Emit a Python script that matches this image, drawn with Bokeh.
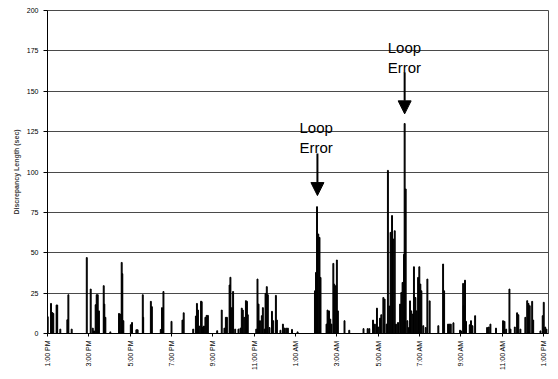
import math
from bokeh.plotting import figure
from bokeh.models import Range1d, FixedTicker, Arrow, NormalHead
from bokeh.core.properties import value
from bokeh.embed import file_html
from bokeh.resources import INLINE

# hours since 1:00 PM and discrepancy length (sec)
hours = [0.01, 0.17, 0.23, 0.28, 0.44, 0.47, 0.62, 0.96, 1.01, 1.17,
         1.90, 2.09, 2.19, 2.25, 2.33, 2.38, 2.43, 2.49, 2.72, 2.75, 2.80, 3.04,
         3.46, 3.52, 3.59, 3.62, 3.67,
         4.03, 4.09, 4.30, 4.36, 4.61, 4.63, 5.00, 5.05, 5.48, 5.54, 5.61,
         6.00, 6.53, 6.59, 7.05, 7.18, 7.23, 7.28, 7.34, 7.43, 7.46, 7.52, 7.57,
         7.64, 7.70, 7.76,
         8.21, 8.43, 8.56, 8.63, 8.68, 8.81, 8.85, 8.92, 8.98, 9.08, 9.24, 9.34,
         9.40, 9.45, 9.52, 9.60, 9.65, 9.69, 10.10, 10.16, 10.21, 10.28, 10.37,
         10.42, 10.50, 10.55, 10.61, 10.66, 10.74, 10.86, 10.92, 11.05, 11.10,
         11.27, 11.39, 11.47, 11.55, 11.63, 11.83,
         12.10, 12.94, 12.99, 13.04, 13.10, 13.16, 13.21, 13.50, 13.55, 13.62,
         13.68, 13.74, 13.83, 13.87, 13.94, 14.00, 14.05, 14.37, 14.60, 15.29,
         15.49, 15.57, 15.75, 15.84, 15.94,
         16.00, 16.09, 16.15, 16.25, 16.31, 16.41, 16.47, 16.54, 16.60, 16.67,
         16.73, 16.80, 16.86, 16.96, 17.06, 17.12, 17.18, 17.25, 17.28, 17.33,
         17.41, 17.49, 17.54, 17.60, 17.67, 17.73, 17.80, 17.86, 17.93, 17.99,
         18.04, 18.09, 18.18, 18.30, 18.38, 18.49, 18.91, 19.14, 19.19, 19.38,
         19.44, 19.51, 19.64, 19.96,
         20.01, 20.11, 20.14, 20.20, 20.25, 20.43, 20.49, 20.56, 20.69, 21.27,
         21.35, 21.43, 21.70, 22.04, 22.11, 22.19, 22.35, 22.40, 22.61, 22.72,
         22.78, 22.88, 23.12, 23.21, 23.27, 23.33, 23.45, 23.50, 23.85, 23.96,
         24.01, 24.08, 24.14]
lengths = [10.4, 18.6, 13, 12.4, 17.6, 17.6, 2.7, 8.5, 24, 2.7,
           47, 27.5, 3.3, 1.6, 17.8, 24, 24, 14, 29.6, 18.2, 10, 1,
           12.4, 12, 44, 37, 7.9,
           5.4, 6.8, 2.3, 2.3, 24, 10, 19.9, 16.6, 2.5, 16, 26,
           7.5, 8.3, 12.8, 2.7, 10.8, 18.6, 14.5, 4.6, 20, 19.7, 4, 4.6,
           10, 11.2, 11.2,
           1.7, 14.5, 3.3, 10, 10, 30, 34.8, 16, 26, 2.7, 2.7, 3.3,
           15.7, 14.5, 10, 20.3, 19.9, 11.6, 2.7, 33.7, 18.2, 7.9, 11,
           16, 2.7, 24.8, 29, 24, 3.7, 13.7, 7.9, 23.6, 8.3,
           2, 5.8, 3.3, 3.3, 3.3, 2.5,
           1, 26.4, 37.8, 78.5, 61.6, 59.5, 34.7, 5.8, 14.5, 14,
           8.9, 5.8, 43.4, 30.6, 29.5, 45.5, 14, 7.9, 2, 3,
           3, 3, 8.3, 5.8, 15.7,
           4, 9.5, 11.6, 22.3, 21.3, 5.8, 101, 17, 62.6, 73,
           58.5, 63.6, 5.8, 6.8, 18.2, 25.4, 31.6, 49, 130, 89.5,
           7.9, 3.7, 20.2, 14, 12, 41.3, 22.3, 14, 34.7, 41.3,
           30.6, 26.4, 4.8, 3.7, 33.7, 20.2, 4.8, 43, 26.4, 5.8,
           5.8, 5.8, 6.6, 2,
           1.6, 31, 17.2, 33, 7.5, 5.4, 7.9, 4.8, 11, 3.7,
           4, 5.8, 3.3, 7.9, 7.5, 2.7, 27.5, 2.7, 4, 12.8,
           11.6, 2.7, 10, 20.3, 18.6, 17.2, 19.9, 8.3, 1.6, 11,
           19.3, 4, 2.7]

tick_hours = [0, 2, 4, 6, 8, 10, 12, 14, 16, 18, 20, 22, 24]
tick_labels = ["1:00 PM", "3:00 PM", "5:00 PM", "7:00 PM", "9:00 PM", "11:00 PM",
               "1:00 AM", "3:00 AM", "5:00 AM", "7:00 AM", "9:00 AM", "11:00 AM",
               "1:00 PM"]
y_ticks = [0, 25, 50, 75, 100, 125, 150, 175, 200]

# annotations
note_x = [12.19, 16.46]
note_loop_y = [127.3, 176.8]
note_error_y = [115.4, 165.0]
arrow_x = [13.06, 17.28]
arrow_y0 = [111.5, 161.6]
arrow_y1 = [85.4, 136.0]

FONT = "Liberation Sans"
GRID = "#4a4a4a"

p = figure(width=556, height=377, output_backend="svg", toolbar_location=None,
           x_range=Range1d(0, 24.24), y_range=Range1d(0, 200),
           min_border_left=47, min_border_right=8, min_border_top=10,
           min_border_bottom=44)
p.background_fill_color = "white"
p.border_fill_color = "white"
p.outline_line_color = GRID
p.outline_line_width = 1

p.vbar(x=hours, top=lengths, width=0.045, bottom=0, color="black")

p.xaxis.ticker = FixedTicker(ticks=tick_hours)
p.xaxis.major_label_overrides = {h: t for h, t in zip(tick_hours, tick_labels)}
p.xaxis.major_label_orientation = math.pi / 2
p.xaxis.minor_tick_line_color = None
p.xaxis.major_tick_in = 0
p.xaxis.major_tick_out = 3
p.xaxis.major_label_standoff = 4
p.xaxis.major_label_text_font = FONT
p.xaxis.major_label_text_font_size = "7px"
p.xaxis.major_label_text_color = "black"
p.xaxis.axis_line_color = "black"

p.yaxis.ticker = FixedTicker(ticks=y_ticks)
p.yaxis.minor_tick_line_color = None
p.yaxis.major_tick_in = 0
p.yaxis.major_tick_out = 4
p.yaxis.major_label_standoff = 5
p.yaxis.major_label_text_font = FONT
p.yaxis.major_label_text_font_size = "7px"
p.yaxis.major_label_text_color = "black"
p.yaxis.axis_line_color = "black"
p.yaxis.axis_label = "Discrepancy Length (sec)"
p.yaxis.axis_label_text_font = FONT
p.yaxis.axis_label_text_font_size = "7px"
p.yaxis.axis_label_text_font_style = "bold"
p.yaxis.axis_label_standoff = 4

p.xgrid.grid_line_color = None
p.ygrid.grid_line_color = GRID
p.ygrid.grid_line_width = 1

p.text(x=note_x, y=note_loop_y, text=["Loop", "Loop"], text_font=value(FONT),
       text_font_size="15px", text_color="black", text_baseline="alphabetic",
       text_align="left")
p.text(x=note_x, y=note_error_y, text=["Error", "Error"], text_font=value(FONT),
       text_font_size="15px", text_color="black", text_baseline="alphabetic",
       text_align="left")
for ax, ay0, ay1 in zip(arrow_x, arrow_y0, arrow_y1):
    p.add_layout(Arrow(end=NormalHead(size=13, fill_color="black", line_color="black"),
                       x_start=ax, y_start=ay0, x_end=ax, y_end=ay1,
                       line_width=2, line_color="black"))

open("out.html", "w").write(file_html(p, INLINE))
